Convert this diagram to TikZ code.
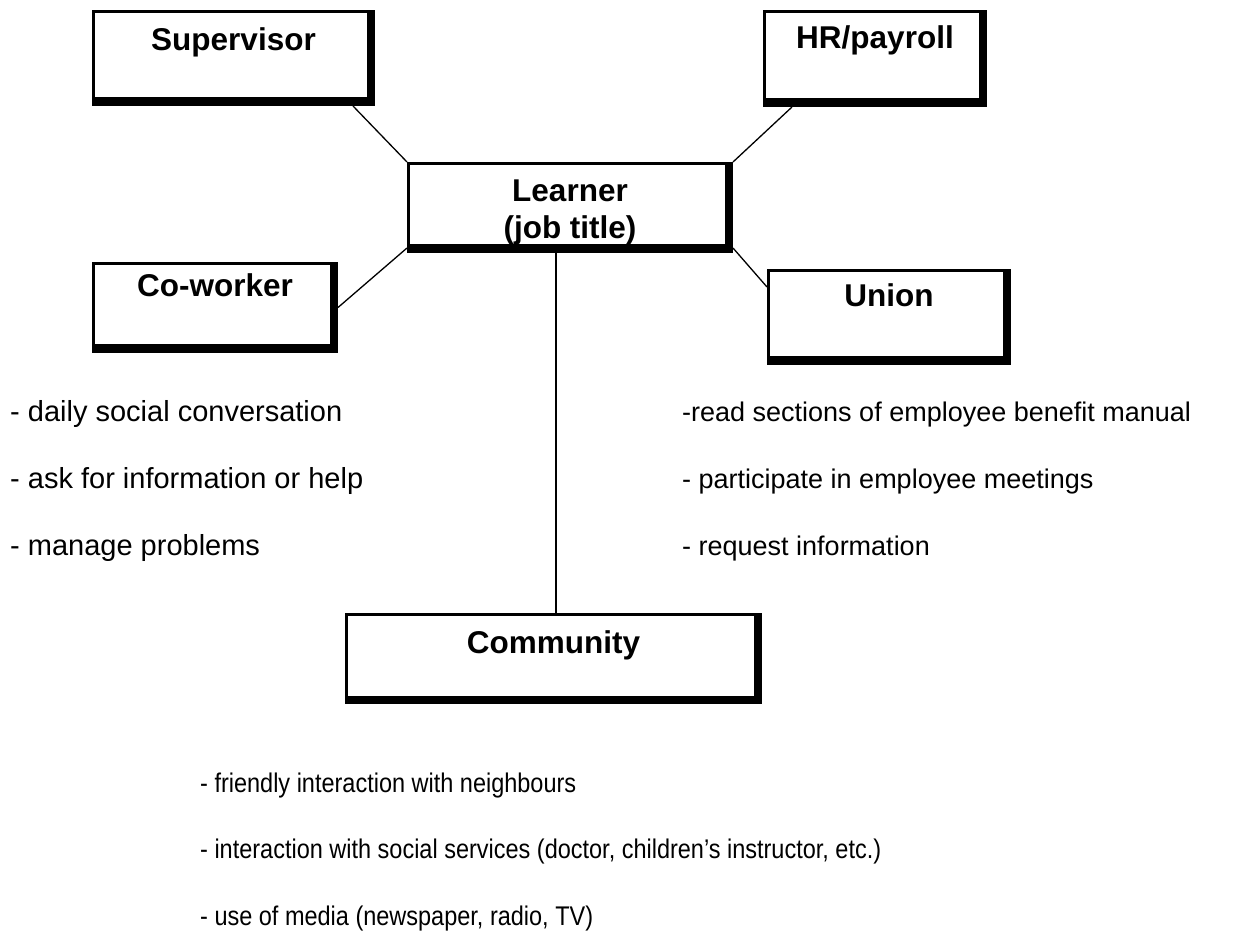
\documentclass[tikz,border=0pt]{standalone}
\usepackage{fontspec}
\setmainfont{Liberation Sans}
\newfontfamily\condfont[FakeStretch=0.87]{Liberation Sans}
\usetikzlibrary{positioning}
\tikzset{%
  box/.style={%
    draw,
    rectangle,
    line width=3pt,
    inner sep=0pt
  },
  boxtitle/.style={%
    anchor=north,
    inner sep=0pt,
    yshift=-16pt,
    text height=23pt,
    font=\bfseries\fontsize{31.5}{37}\selectfont
  },
  thickedge/.style={%
    line width=8.5pt,
    line join=miter
  },
  link/.style={%
    line width=1.3pt
  },
  listitem/.style={%
    anchor=base west,
    inner sep=0pt
  }
}

\begin{document}
\begin{tikzpicture}[x=1pt,y=1pt]
    \useasboundingbox (0,0) rectangle (1248,-933);

    % the boxes
    \node[box, minimum width=280pt, minimum height=93pt,
      label={[boxtitle, yshift=-1pt]north:Supervisor}] (sup) at (233.5,-58) {};
    \node[box, minimum width=221pt, minimum height=94pt,
      label={[boxtitle, yshift=1pt]north:HR/payroll}] (hr) at (875,-58.5) {};
    \node[box, minimum width=323pt, minimum height=88pt, align=center,
      font=\bfseries\fontsize{31.5}{37}\selectfont] (lrn) at (570,-207.5)
      {\rule{0pt}{31pt}Learner\\(job title)};
    \node[box, minimum width=243pt, minimum height=88pt,
      label={[boxtitle, yshift=5pt]north:Co-worker}] (cw) at (215,-307.5) {};
    \node[box, minimum width=241pt, minimum height=93pt,
      label={[boxtitle, yshift=2pt]north:Union}] (un) at (889,-317) {};
    \node[box, minimum width=414pt, minimum height=88pt,
      label={[boxtitle, yshift=-1pt]north:Community}] (com) at (553.5,-658.5) {};

    % heavy bottom and right edges
    \foreach \n in {sup,hr,lrn,cw,un,com}
      \draw[thickedge] ([yshift=4.25pt]\n.south west)
        -- ([shift={(-4.25pt,4.25pt)}]\n.south east)
        -- ([xshift=-4.25pt]\n.north east);

    % connectors
    \draw[link] ([xshift=-22pt]sup.south east) -- (lrn.north west);
    \draw[link] ([xshift=29pt]hr.south west) -- (lrn.north east);
    \draw[link] (cw.east) -- ([yshift=5pt]lrn.south west);
    \draw[link] ([yshift=5pt]lrn.south east) -- ([yshift=-18pt]un.north west);
    \coordinate (drop) at ([xshift=2.5pt]com.north);
    \draw[link] (drop) -- (drop |- lrn.south);

    % co-worker tasks
    \begin{scope}[font=\fontsize{29}{35}\selectfont]
      \node[listitem] (cw1) at (10,-421) {- daily social conversation};
      \node[listitem] (cw2) at (10,-488) {- ask for information or help};
      \node[listitem] (cw3) at (10,-555) {- manage problems};
    \end{scope}

    % union tasks
    \begin{scope}[font=\fontsize{27}{33}\selectfont]
      \node[listitem] (un1) at (682,-421) {-read sections of employee benefit manual};
      \node[listitem] (un2) at (682,-488) {- participate in employee meetings};
      \node[listitem] (un3) at (682,-555) {- request information};
    \end{scope}

    % community tasks
    \begin{scope}[font=\condfont\fontsize{27}{33}\selectfont]
      \node[listitem] (com1) at (200,-792) {- friendly interaction with neighbours};
      \node[listitem] (com2) at (200,-858)
        {- interaction with social services (doctor, children’s instructor, etc.)};
      \node[listitem] (com3) at (200,-925) {- use of media (newspaper, radio, TV)};
    \end{scope}
\end{tikzpicture}
\end{document}
